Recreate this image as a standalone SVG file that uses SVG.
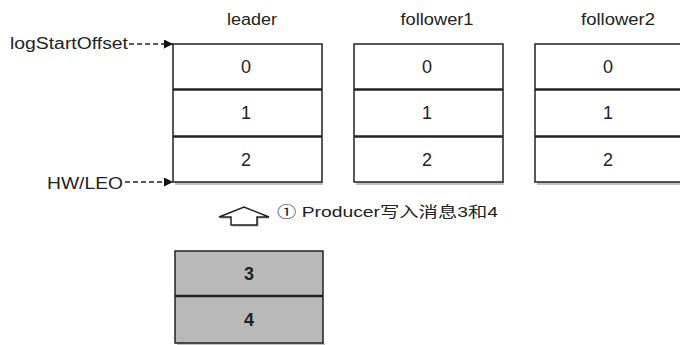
<svg xmlns="http://www.w3.org/2000/svg" width="680" height="345" viewBox="0 0 680 345">
<defs>
<style>
.lbl{font-family:"Liberation Sans",Arial,sans-serif;font-size:16px;fill:#222}
.num{font-family:"Liberation Sans",Arial,sans-serif;font-size:18px;fill:#222;text-anchor:middle}
.cell{fill:#fff;stroke:#222;stroke-width:1.5}
.gcell{fill:#b9b9b9;stroke:#222;stroke-width:1.5}
.div{stroke:#222;stroke-width:2.5}
.shadow{fill:#999;opacity:0.6}
.dash{stroke:#222;stroke-width:1.6;stroke-dasharray:5,3;fill:none}
</style>
<marker id="ah" viewBox="0 0 10 10" refX="10" refY="5" markerWidth="9" markerHeight="9" markerUnits="userSpaceOnUse" orient="auto">
<path d="M0,0 L10,5 L0,10 z" fill="#111"/>
</marker>
</defs>
<rect width="680" height="345" fill="#fff"/>

<g id="leader">
<text class="lbl" x="252" y="25" text-anchor="middle" textLength="50" lengthAdjust="spacingAndGlyphs">leader</text>
<rect class="shadow" x="175" y="182" width="148" height="3"/>
<rect class="cell" x="173" y="44" width="149" height="138"/>
<line class="div" x1="173" y1="89.5" x2="322" y2="89.5"/>
<line class="div" x1="173" y1="136.5" x2="322" y2="136.5"/>
<text class="num" x="246" y="73">0</text>
<text class="num" x="246" y="119">1</text>
<text class="num" x="246" y="166">2</text>
</g>

<g id="follower1">
<text class="lbl" x="437" y="25" text-anchor="middle" textLength="73" lengthAdjust="spacingAndGlyphs">follower1</text>
<rect class="shadow" x="356" y="182" width="148" height="3"/>
<rect class="cell" x="354" y="44" width="149" height="138"/>
<line class="div" x1="354" y1="89.5" x2="503" y2="89.5"/>
<line class="div" x1="354" y1="136.5" x2="503" y2="136.5"/>
<text class="num" x="427" y="73">0</text>
<text class="num" x="427" y="119">1</text>
<text class="num" x="427" y="166">2</text>
</g>

<g id="follower2">
<text class="lbl" x="618" y="25" text-anchor="middle" textLength="74" lengthAdjust="spacingAndGlyphs">follower2</text>
<rect class="shadow" x="537" y="182" width="148" height="3"/>
<rect class="cell" x="535" y="44" width="149" height="138"/>
<line class="div" x1="535" y1="89.5" x2="684" y2="89.5"/>
<line class="div" x1="535" y1="136.5" x2="684" y2="136.5"/>
<text class="num" x="608" y="73">0</text>
<text class="num" x="608" y="119">1</text>
<text class="num" x="608" y="166">2</text>
</g>

<g id="logStartOffset">
<text class="lbl" x="10" y="49" textLength="118" lengthAdjust="spacingAndGlyphs">logStartOffset</text>
</g>
<g id="hwleo">
<text class="lbl" x="47" y="189" textLength="76" lengthAdjust="spacingAndGlyphs">HW/LEO</text>
</g>

<g id="new-messages">
<rect class="shadow" x="177" y="343" width="148" height="3"/>
<rect class="gcell" x="175" y="251" width="148" height="92"/>
<line class="div" x1="175" y1="296" x2="323" y2="296"/>
<text class="num" x="249" y="280" font-weight="bold">3</text>
<text class="num" x="249" y="326" font-weight="bold">4</text>
</g>

<g id="producer-label">
<text class="lbl" x="277" y="217" textLength="221" lengthAdjust="spacingAndGlyphs" style="font-family:'Liberation Sans','Noto Sans CJK SC',sans-serif;font-size:14.5px">① Producer写入消息3和4</text>
</g>

<g id="connectors">
<line class="dash" x1="129" y1="44" x2="173" y2="44" marker-end="url(#ah)"/>
<line class="dash" x1="125" y1="182" x2="173" y2="182" marker-end="url(#ah)"/>
<path d="M219,217 L244,207 L269,217 L257,217 L257,225 L231,225 L231,217 Z" fill="#777" transform="translate(1.5,1.5)" opacity="0.6"/>
<path d="M219,217 L244,207 L269,217 L257,217 L257,225 L231,225 L231,217 Z" fill="#fff" stroke="#222" stroke-width="1.5" stroke-linejoin="miter"/>
</g>
</svg>
